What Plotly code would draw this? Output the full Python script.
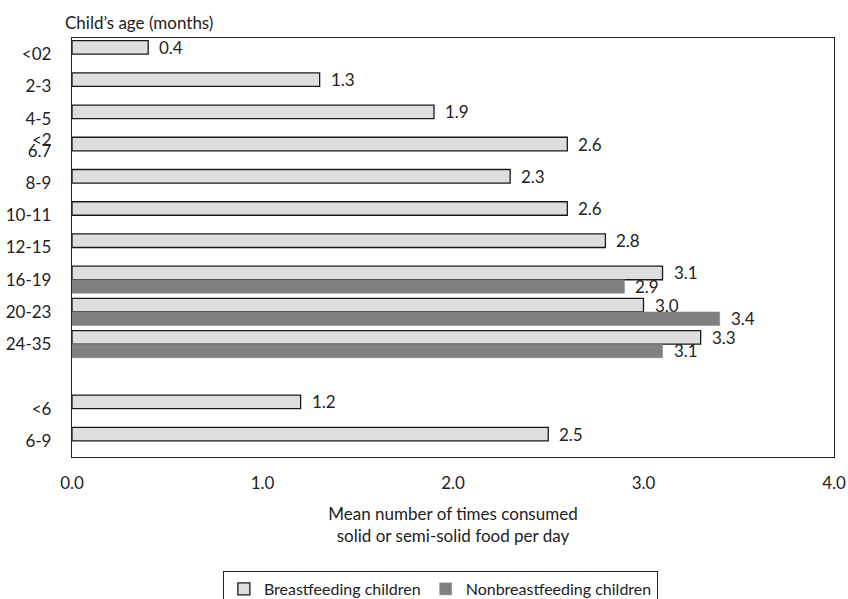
import plotly.graph_objects as go

# ---- data ----
age_groups = ["<02", "2-3", "4-5", "6.7", "8-9", "10-11", "12-15", "16-19", "20-23", "24-35", "", "<6", "6-9"]
breastfeeding = [0.4, 1.3, 1.9, 2.6, 2.3, 2.6, 2.8, 3.1, 3.0, 3.3, None, 1.2, 2.5]
nonbreastfeeding = [None, None, None, None, None, None, None, 2.9, 3.4, 3.1, None, None, None]
x_ticks = [0, 1, 2, 3, 4]
x_tick_labels = ["0.0", "1.0", "2.0", "3.0", "4.0"]

FONT = "Lato"
FS = 17
TXT = "#222"
pos = list(range(len(age_groups)))

fig = go.Figure()
fig.add_trace(go.Bar(
    y=pos, x=breastfeeding, orientation="h", name="Breastfeeding children",
    marker=dict(color="#dedede", line=dict(color="#1a1a1a", width=1.3)),
    hoverinfo="x",
))
fig.add_trace(go.Bar(
    y=pos, x=nonbreastfeeding, orientation="h", name="Nonbreastfeeding children",
    marker=dict(color="#808080", line=dict(color="#808080", width=0.5)),
    hoverinfo="x",
))

annotations = []
for i, v in enumerate(breastfeeding):
    if v is not None:
        annotations.append(dict(x=v, y=i - 0.21, xref="x", yref="y", text=f"{v:.1f}",
                                showarrow=False, xanchor="left", yanchor="middle", xshift=9,
                                font=dict(family=FONT, size=FS, color=TXT)))
for i, v in enumerate(nonbreastfeeding):
    if v is not None:
        annotations.append(dict(x=v, y=i + 0.21, xref="x", yref="y", text=f"{v:.1f}",
                                showarrow=False, xanchor="left", yanchor="middle", xshift=9,
                                font=dict(family=FONT, size=FS, color=TXT)))
# overlapping "<2" above "6.7"
annotations.append(dict(x=-0.0236, y=3 - 0.36, xref="paper", yref="y", text="<2",
                        showarrow=False, xanchor="right", yanchor="middle",
                        font=dict(family=FONT, size=FS, color=TXT)))
# axis heading
annotations.append(dict(x=-0.012, y=1.037, xref="paper", yref="paper", text="Child’s age (months)",
                        showarrow=False, xanchor="left", yanchor="middle",
                        font=dict(family=FONT, size=FS, color=TXT)))

fig.update_layout(
    width=848, height=599,
    margin=dict(l=72, r=14, t=38, b=142, autoexpand=False),
    paper_bgcolor="white", plot_bgcolor="white",
    barmode="group", bargap=0.16, bargroupgap=0,
    font=dict(family=FONT, size=FS, color=TXT),
    showlegend=True,
    legend=dict(orientation="h", x=0.198, y=-0.272, xanchor="left", yanchor="top",
                bordercolor=TXT, borderwidth=1, font=dict(family=FONT, size=16, color=TXT),
                itemwidth=30, traceorder="normal", tracegroupgap=0),
    annotations=annotations,
)
fig.update_xaxes(
    range=[0, 4], tickvals=x_ticks, ticktext=x_tick_labels, automargin=False,
    showgrid=False, zeroline=False, showline=True, linecolor=TXT, linewidth=1.3, mirror=True,
    ticks="", ticklabelstandoff=10,
    title=dict(text="Mean number of times consumed<br>solid or semi-solid food per day",
               standoff=16, font=dict(family=FONT, size=FS, color=TXT)),
)
fig.update_yaxes(
    range=[len(age_groups) - 0.5, -0.5], tickvals=pos, ticktext=age_groups, automargin=False,
    showgrid=False, zeroline=False, showline=True, linecolor=TXT, linewidth=1.3, mirror=True,
    ticks="", ticklabelstandoff=16,
)

fig.write_html("out.html", config={"displayModeBar": False},
               post_script="document.body.style.margin='0';document.body.style.overflow='hidden';")
